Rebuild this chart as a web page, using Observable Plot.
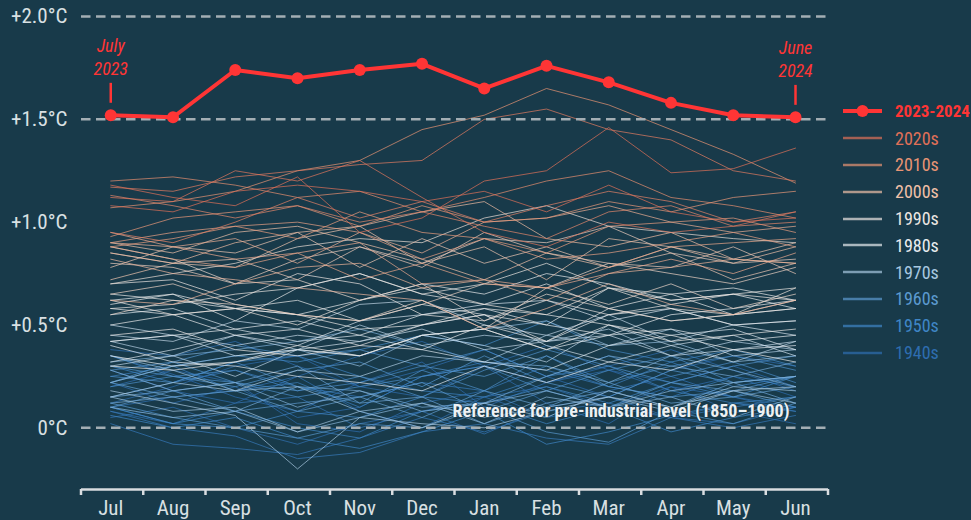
<!DOCTYPE html>
<html>
<head>
<meta charset="utf-8">
<script src="https://cdn.jsdelivr.net/npm/d3@7"></script>
<script src="https://cdn.jsdelivr.net/npm/@observablehq/plot@0.6"></script>
<style>
  html, body { margin: 0; padding: 0; background: #183a4a; }
  #wrap { position: relative; width: 971px; height: 520px; background: #183a4a; overflow: hidden; }
  #legend { position: absolute; left: 843px; top: 98px; font-family: "Roboto Condensed", "Liberation Sans Narrow", "DejaVu Sans Condensed", Roboto, sans-serif; font-size: 18px; }
  .row { display: flex; align-items: center; height: 26.8px; white-space: nowrap; }
  .row svg { flex: none; }
  .row span { margin-left: 13px; }
</style>
</head>
<body>
<div id="wrap"><div id="legend"></div></div>
<script>
const FONT = '"Roboto Condensed", "Liberation Sans Narrow", "DejaVu Sans Condensed", Roboto, sans-serif';
const BG = "#183a4a";

const months = ["Jul","Aug","Sep","Oct","Nov","Dec","Jan","Feb","Mar","Apr","May","Jun"];
const yTicks = [0, 0.5, 1.0, 1.5, 2.0];
const gridLevels = [0, 1.5, 2.0];
const yDomain = [-0.3, 2.0];

// Season (July–June) anomalies vs. 1850–1900, °C
const current = [1.52, 1.51, 1.74, 1.70, 1.74, 1.77, 1.65, 1.76, 1.68, 1.58, 1.52, 1.51];
const currentLabel = "2023-2024";

const seasonYears = [
  1940,1941,1942,1943,1944,1945,1946,1947,1948,1949,
  1950,1951,1952,1953,1954,1955,1956,1957,1958,1959,
  1960,1961,1962,1963,1964,1965,1966,1967,1968,1969,
  1970,1971,1972,1973,1974,1975,1976,1977,1978,1979,
  1980,1981,1982,1983,1984,1985,1986,1987,1988,1989,
  1990,1991,1992,1993,1994,1995,1996,1997,1998,1999,
  2000,2001,2002,2003,2004,2005,2006,2007,2008,2009,
  2010,2011,2012,2013,2014,2015,2016,2017,2018,2019,
  2020,2021,2022
];

const anomalies = [
  [0.28,0.18,0.12,0.25,0.35,0.42,0.30,0.40,0.28,0.22,0.30,0.20],
  [0.35,0.26,0.15,0.08,0.22,0.32,0.10,0.22,0.30,0.38,0.28,0.18],
  [0.22,0.12,0.20,0.05,0.10,0.25,0.30,0.12,0.02,0.20,0.15,0.08],
  [0.12,0.20,0.30,0.35,0.20,0.28,0.38,0.25,0.15,0.28,0.35,0.30],
  [0.38,0.35,0.42,0.30,0.20,0.15,0.30,0.22,0.28,0.18,0.25,0.15],
  [0.20,0.28,0.22,0.02,-0.02,0.12,0.18,0.05,0.10,0.20,0.08,0.02],
  [0.05,0.10,0.00,-0.08,0.02,0.08,0.15,0.20,0.10,0.05,0.12,0.10],
  [0.10,0.15,0.18,0.25,0.08,0.00,0.15,0.05,0.18,0.25,0.15,0.10],
  [0.08,0.02,0.12,0.15,0.00,0.08,-0.03,0.10,0.15,0.05,0.02,0.10],
  [0.02,-0.08,-0.10,-0.13,-0.05,0.05,-0.02,0.08,0.12,0.05,0.00,0.06],
  [0.08,0.00,-0.04,-0.15,-0.12,-0.02,0.02,-0.05,-0.08,0.05,0.10,0.15],
  [0.15,0.22,0.28,0.20,0.15,0.22,0.18,0.30,0.20,0.15,0.25,0.20],
  [0.25,0.30,0.18,0.22,0.10,0.25,0.32,0.28,0.20,0.32,0.20,0.25],
  [0.30,0.22,0.32,0.35,0.25,0.18,0.15,0.25,0.30,0.18,0.12,0.08],
  [0.10,0.02,0.08,0.00,-0.05,0.08,0.12,0.02,0.10,-0.02,0.05,0.10],
  [0.06,0.00,0.05,-0.05,-0.10,-0.02,0.08,-0.08,-0.02,0.06,0.12,0.15],
  [0.10,0.02,0.00,0.08,0.05,0.15,0.12,0.20,0.12,0.22,0.15,0.25],
  [0.22,0.30,0.35,0.32,0.38,0.45,0.40,0.52,0.38,0.32,0.38,0.30],
  [0.35,0.25,0.28,0.18,0.22,0.30,0.38,0.25,0.35,0.25,0.32,0.22],
  [0.20,0.25,0.22,0.15,0.20,0.25,0.30,0.18,0.28,0.35,0.22,0.25],
  [0.25,0.22,0.32,0.20,0.12,0.28,0.18,0.35,0.22,0.30,0.35,0.28],
  [0.28,0.32,0.22,0.18,0.25,0.15,0.28,0.38,0.30,0.22,0.30,0.35],
  [0.30,0.25,0.20,0.28,0.32,0.20,0.35,0.22,0.15,0.28,0.22,0.25],
  [0.22,0.32,0.40,0.35,0.38,0.30,0.25,0.35,0.20,0.15,0.18,0.10],
  [0.12,0.05,0.00,-0.05,0.02,0.00,0.10,-0.02,-0.07,0.08,0.02,0.12],
  [0.10,0.18,0.08,0.12,0.15,0.22,0.08,0.18,0.10,0.22,0.18,0.25],
  [0.22,0.15,0.18,0.08,0.15,0.05,0.18,0.10,0.22,0.12,0.15,0.20],
  [0.15,0.18,0.22,0.30,0.12,0.15,0.02,0.12,0.18,0.10,0.22,0.12],
  [0.12,0.15,0.08,0.20,0.18,0.10,0.12,0.25,0.35,0.30,0.25,0.32],
  [0.32,0.35,0.38,0.42,0.48,0.40,0.32,0.30,0.22,0.35,0.28,0.20],
  [0.28,0.18,0.22,0.10,0.18,0.08,0.12,0.18,0.10,0.15,0.05,0.15],
  [0.10,0.05,0.08,-0.02,0.05,0.12,0.02,0.15,0.10,0.18,0.22,0.25],
  [0.22,0.30,0.35,0.38,0.30,0.45,0.48,0.52,0.40,0.42,0.32,0.35],
  [0.35,0.28,0.18,0.20,0.08,0.12,0.05,0.10,0.15,0.08,0.18,0.12],
  [0.15,0.08,0.10,-0.02,0.08,0.00,0.12,0.05,0.18,0.10,0.20,0.18],
  [0.18,0.12,0.06,-0.20,0.05,0.02,0.00,0.08,0.15,0.10,0.18,0.20],
  [0.15,0.22,0.18,0.28,0.25,0.35,0.32,0.45,0.40,0.48,0.35,0.38],
  [0.42,0.35,0.45,0.38,0.50,0.40,0.45,0.42,0.48,0.35,0.42,0.38],
  [0.30,0.35,0.25,0.38,0.35,0.45,0.40,0.32,0.50,0.40,0.32,0.42],
  [0.45,0.42,0.52,0.48,0.60,0.62,0.50,0.45,0.55,0.42,0.50,0.52],
  [0.50,0.45,0.40,0.45,0.42,0.48,0.38,0.42,0.45,0.35,0.38,0.42],
  [0.42,0.45,0.35,0.38,0.42,0.50,0.55,0.40,0.32,0.40,0.45,0.35],
  [0.32,0.38,0.45,0.40,0.52,0.55,0.60,0.62,0.52,0.58,0.50,0.45],
  [0.55,0.58,0.48,0.42,0.45,0.38,0.32,0.28,0.40,0.45,0.48,0.38],
  [0.40,0.32,0.30,0.25,0.22,0.18,0.30,0.22,0.32,0.28,0.38,0.40],
  [0.35,0.30,0.32,0.38,0.35,0.45,0.48,0.38,0.45,0.48,0.42,0.45],
  [0.42,0.45,0.48,0.52,0.45,0.55,0.58,0.50,0.45,0.55,0.58,0.62],
  [0.62,0.65,0.58,0.55,0.62,0.70,0.65,0.75,0.70,0.62,0.65,0.58],
  [0.58,0.55,0.45,0.48,0.40,0.38,0.50,0.42,0.55,0.58,0.50,0.52],
  [0.50,0.55,0.58,0.62,0.52,0.60,0.55,0.50,0.68,0.65,0.55,0.58],
  [0.60,0.65,0.52,0.68,0.75,0.65,0.60,0.70,0.58,0.65,0.68,0.62],
  [0.65,0.62,0.58,0.55,0.48,0.50,0.58,0.55,0.50,0.45,0.38,0.32],
  [0.30,0.28,0.32,0.40,0.35,0.45,0.48,0.38,0.50,0.42,0.45,0.48],
  [0.45,0.48,0.38,0.35,0.40,0.50,0.55,0.42,0.58,0.52,0.55,0.58],
  [0.58,0.60,0.65,0.68,0.75,0.65,0.70,0.80,0.68,0.62,0.65,0.68],
  [0.70,0.72,0.62,0.75,0.70,0.55,0.52,0.62,0.55,0.60,0.65,0.62],
  [0.62,0.55,0.58,0.50,0.62,0.68,0.60,0.55,0.68,0.58,0.55,0.68],
  [0.70,0.75,0.80,0.88,0.92,0.90,1.02,1.08,0.98,0.95,0.92,0.90],
  [0.88,0.82,0.70,0.72,0.62,0.70,0.52,0.65,0.58,0.52,0.55,0.62],
  [0.55,0.62,0.60,0.55,0.52,0.62,0.48,0.68,0.60,0.70,0.58,0.65],
  [0.65,0.70,0.60,0.55,0.52,0.60,0.70,0.68,0.80,0.75,0.70,0.78],
  [0.80,0.78,0.70,0.82,0.88,0.80,0.92,0.90,0.98,0.85,0.80,0.82],
  [0.85,0.80,0.82,0.72,0.88,0.78,0.95,0.85,0.80,0.78,0.88,0.75],
  [0.78,0.88,0.85,0.95,0.78,0.92,0.80,0.88,0.78,0.85,0.72,0.80],
  [0.72,0.80,0.78,0.92,0.98,0.80,0.88,0.72,0.92,0.88,0.82,0.90],
  [0.90,0.85,0.95,0.98,0.90,0.82,0.72,0.85,0.78,0.88,0.80,0.88],
  [0.85,0.80,0.90,0.95,0.98,1.05,1.10,0.92,0.88,0.95,0.82,0.80],
  [0.82,0.75,0.72,0.68,0.65,0.62,0.48,0.58,0.70,0.60,0.55,0.62],
  [0.62,0.60,0.70,0.78,0.80,0.68,0.72,0.62,0.75,0.78,0.82,0.80],
  [0.90,0.88,0.92,0.80,0.95,0.85,1.00,1.02,1.08,1.00,0.95,0.98],
  [0.95,0.88,0.82,0.85,0.90,0.70,0.72,0.68,0.75,0.82,0.75,0.85],
  [0.88,0.82,0.78,0.85,0.72,0.80,0.70,0.68,0.78,0.88,0.90,0.92],
  [0.90,0.95,0.98,1.00,0.95,0.82,0.92,0.82,0.85,0.90,0.95,0.88],
  [0.88,0.92,0.98,0.92,1.05,0.95,0.92,0.85,0.98,1.00,1.02,0.95],
  [0.93,1.02,1.05,1.08,0.98,1.08,1.00,1.02,1.10,1.05,1.12,1.15],
  [1.07,1.10,1.15,1.25,1.30,1.45,1.52,1.65,1.57,1.45,1.33,1.19],
  [1.20,1.22,1.18,1.12,1.15,1.05,1.12,1.20,1.25,1.12,1.08,1.02],
  [1.13,1.08,1.02,1.08,1.00,1.05,0.98,0.92,1.05,1.08,0.98,1.00],
  [0.95,0.90,1.00,1.12,1.02,1.10,1.00,1.08,1.15,1.10,1.00,1.05],
  [1.17,1.15,1.22,1.25,1.28,1.30,1.50,1.55,1.45,1.40,1.25,1.20],
  [1.12,1.10,1.25,1.20,1.30,1.12,0.95,0.88,1.00,0.95,0.98,1.05],
  [1.08,1.05,1.15,1.18,1.15,1.10,1.15,1.05,1.18,1.05,1.00,1.02],
  [1.18,1.12,1.08,1.22,0.95,1.02,1.20,1.25,1.46,1.24,1.26,1.36]
];

const decades = [2020, 2010, 2000, 1990, 1980, 1970, 1960, 1950, 1940];
const colorYears = [1945, 1955, 1965, 1975, 1985, 1995, 2005, 2015, 2021];
const colorRange = ["#2e6db0","#3f86c6","#5c9ad0","#a8c8e0","#e8ecef","#ece6e2","#f0c0a8","#e89474","#e07058"];
const RED = "#ff3535";
const refText = "Reference for pre-industrial level (1850\u20131900)";

const hist = seasonYears.flatMap((yr, i) => anomalies[i].map((v, j) => ({year: yr, month: months[j], value: v})));
const cur = current.map((v, j) => ({month: months[j], value: v}));
const ends = [
  {...cur[0], label: "July\n2023"},
  {...cur[cur.length - 1], label: "June\n2024"}
];

const chart = Plot.plot({
  width: 971,
  height: 520,
  marginLeft: 81,
  marginRight: 143,
  marginTop: 16,
  marginBottom: 31,
  style: {background: BG, color: "#d9e0e3", fontFamily: FONT, fontSize: "21px", overflow: "visible"},
  x: {type: "point", domain: months, padding: 0.5, align: 0.47, round: false, tickSize: 0, tickPadding: 11, label: null},
  y: {domain: yDomain, ticks: yTicks, tickSize: 0, tickPadding: 14, label: null,
      tickFormat: d => d === 0 ? "0\u00b0C" : "+" + d.toFixed(1) + "\u00b0C"},
  color: {type: "linear", domain: colorYears, range: colorRange, clamp: true, interpolate: "rgb"},
  marks: [
    Plot.line(hist, {x: "month", y: "value", z: "year", stroke: "year", strokeWidth: 1, strokeOpacity: 0.7}),
    Plot.ruleY(gridLevels, {stroke: "#a3aeb4", strokeWidth: 2.5, strokeDasharray: "9.5,5.5"}),
    Plot.ruleY([yDomain[0]], {stroke: "#d9dde0", strokeWidth: 2.5}),
    Plot.text([{month: months[months.length - 1], value: 0, label: refText}], {
      x: "month", y: "value", text: "label", textAnchor: "end", dx: -6, dy: -17,
      fontSize: 18, fontWeight: "bold", fill: "#eef1f3", stroke: BG, strokeWidth: 2, strokeOpacity: 0.5
    }),
    Plot.line(cur, {x: "month", y: "value", stroke: RED, strokeWidth: 4}),
    Plot.dot(cur, {x: "month", y: "value", r: 6, fill: RED}),
    Plot.ruleX(ends, {x: "month", y1: d => d.value + 0.058, y2: d => d.value + 0.155, stroke: RED, strokeWidth: 2.5}),
    Plot.text(ends, {x: "month", y: "value", text: "label", dy: -40, lineAnchor: "bottom", lineHeight: 1.3,
      fill: RED, fontSize: 18, fontStyle: "italic"})
  ]
});

// tick marks on the month boundaries of the axis, from the plot's own x range
const sx = chart.scale("x"), sy = chart.scale("y");
const [r0x, r1x] = sx.range;
const yAxis = sy.apply(yDomain[0]);
const bounds = d3.range(months.length + 1).map(i => r0x + i * (r1x - r0x) / months.length);
d3.select(chart).append("g")
  .attr("stroke", "#d9dde0").attr("stroke-width", 2.5)
  .selectAll("line").data(bounds).join("line")
  .attr("x1", d => d).attr("x2", d => d)
  .attr("y1", yAxis).attr("y2", yAxis + 6);

document.getElementById("wrap").prepend(chart);

// legend
const legend = d3.select("#legend");
const colorScale = chart.scale("color");
const row0 = legend.append("div").attr("class", "row");
const s0 = row0.append("svg").attr("width", 39).attr("height", 14);
s0.append("line").attr("x1", 0).attr("x2", 39).attr("y1", 7).attr("y2", 7).attr("stroke", RED).attr("stroke-width", 4);
s0.append("circle").attr("cx", 19.5).attr("cy", 7).attr("r", 6).attr("fill", RED);
row0.append("span").text(currentLabel).style("color", RED).style("font-weight", "bold").style("font-size", "17px");
for (const dec of decades) {
  const c = colorScale.apply(dec + 5);
  const r = legend.append("div").attr("class", "row");
  r.append("svg").attr("width", 39).attr("height", 14)
    .append("line").attr("x1", 0).attr("x2", 39).attr("y1", 7).attr("y2", 7)
    .attr("stroke", c).attr("stroke-width", 2.7).attr("stroke-opacity", 0.7);
  r.append("span").text(dec + "s").style("color", c);
}
</script>
</body>
</html>
